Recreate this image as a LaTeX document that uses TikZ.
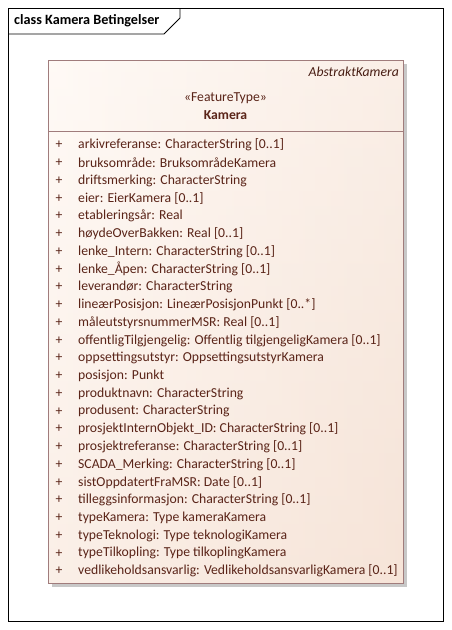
\documentclass[tikz,border=0pt]{standalone}
\usepackage{fontspec}
\setmainfont{Carlito}
\usetikzlibrary{shadings}
\definecolor{boxline}{HTML}{A07C7C}
\definecolor{boxtop}{HTML}{FFFAF6}
\definecolor{boxbot}{HTML}{F6E4D8}
\definecolor{txt}{HTML}{5A2418}
\definecolor{shad}{HTML}{C8C8C8}
\tikzset{
  attr/.style={anchor=west, inner sep=0pt, text=txt, font=\fontsize{13.7}{15}\selectfont},
  plus/.style={anchor=center, inner sep=0pt, text=txt, font=\fontsize{13.7}{15}\selectfont},
  hdr/.style={inner sep=0pt, font=\fontsize{13.7}{15}\selectfont},
}
\begin{document}
\begin{tikzpicture}[x=1pt,y=-1pt]
\useasboundingbox (0,0) rectangle (452,630);
\fill[white] (0,0) rectangle (452,630);
% frame
\draw[black, line width=0.9pt] (8,8) rectangle (443,621);
\draw[black, line width=0.9pt] (8,34) -- (164,34) -- (180,18) -- (180,8);
\node[anchor=west, inner sep=0pt, font=\fontsize{14.2}{16}\selectfont\bfseries] (title) at (14,20.5) {class Kamera Betingelser};
% shadow
\fill[shad] (52,64) rectangle (407,587);
% box
\shade[shading=axis, top color=boxtop, bottom color=boxbot, shading angle=0] (48,60) rectangle (403,583);
\shade[left color=boxtop, right color=boxbot, opacity=0.5] (48,60) rectangle (403,583);
\draw[boxline, line width=1pt] (48,60) rectangle (403,583);
\draw[boxline, line width=1pt] (48,131) -- (403,131);
\node[hdr, anchor=east, text=txt!80!black, font=\fontsize{13.7}{15}\selectfont\itshape] (abs) at (399,72) {AbstraktKamera};
\node[hdr, text=txt] (st) at (225.5,98) {«FeatureType»};
\node[hdr, text=txt, font=\fontsize{13.7}{15}\selectfont\bfseries] (nm) at (225.5,115) {Kamera};
\foreach \i/\t in {0/{arkivreferanse: CharacterString [0..1]},
1/{bruksområde: BruksområdeKamera},
2/{driftsmerking: CharacterString},
3/{eier: EierKamera [0..1]},
4/{etableringsår: Real},
5/{høydeOverBakken: Real [0..1]},
6/{lenke\_Intern: CharacterString [0..1]},
7/{lenke\_Åpen: CharacterString [0..1]},
8/{leverandør: CharacterString},
9/{lineærPosisjon: LineærPosisjonPunkt [0..*]},
10/{måleutstyrsnummerMSR: Real [0..1]},
11/{offentligTilgjengelig: Offentlig tilgjengeligKamera [0..1]},
12/{oppsettingsutstyr: OppsettingsutstyrKamera},
13/{posisjon: Punkt},
14/{produktnavn: CharacterString},
15/{produsent: CharacterString},
16/{prosjektInternObjekt\_ID: CharacterString [0..1]},
17/{prosjektreferanse: CharacterString [0..1]},
18/{SCADA\_Merking: CharacterString [0..1]},
19/{sistOppdatertFraMSR: Date [0..1]},
20/{tilleggsinformasjon: CharacterString [0..1]},
21/{typeKamera: Type kameraKamera},
22/{typeTeknologi: Type teknologiKamera},
23/{typeTilkopling: Type tilkoplingKamera},
24/{vedlikeholdsansvarlig: VedlikeholdsansvarligKamera [0..1]}} {
  \node[plus] (p\i) at (59,145+\i*17.75) {+};
  \node[attr] (a\i) at (78,145+\i*17.75) {\t};
}
\end{tikzpicture}
\end{document}
